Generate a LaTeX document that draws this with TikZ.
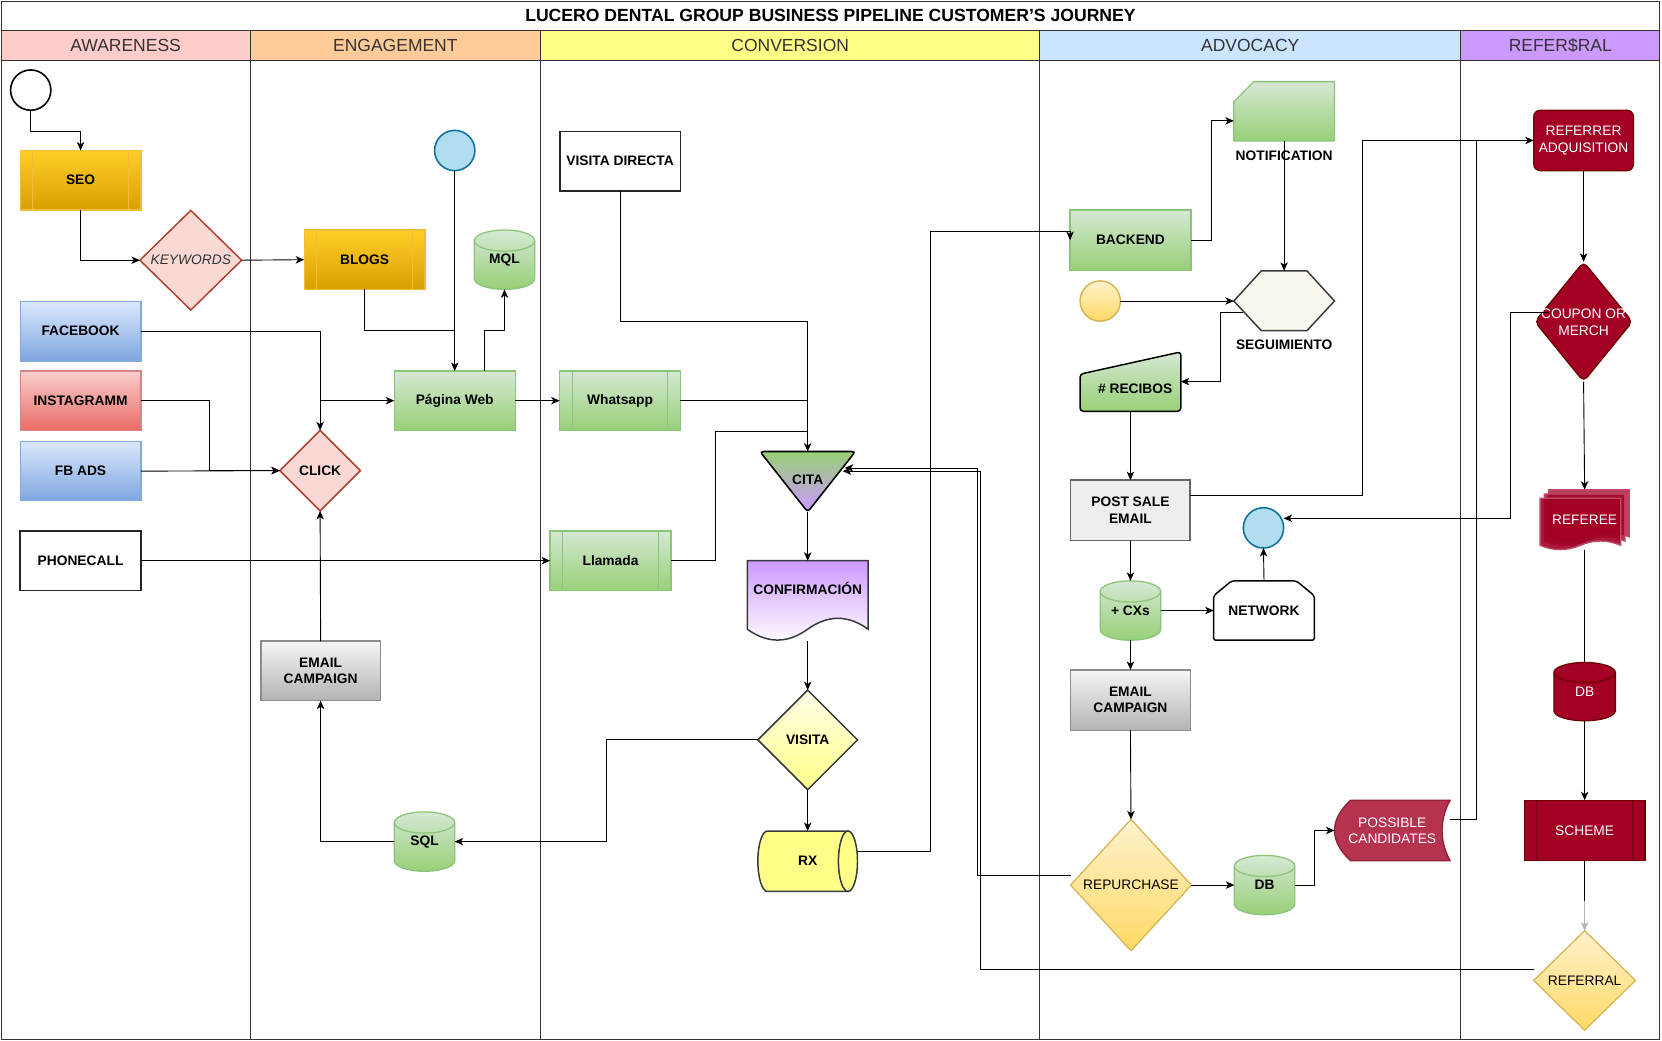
\documentclass[tikz,border=0pt]{standalone}
\usepackage{fontspec}
\setmainfont{Liberation Sans}
\usetikzlibrary{arrows.meta,shapes.geometric}

\definecolor{frame}{HTML}{333333}
\definecolor{ink}{HTML}{262626}
\definecolor{hAware}{HTML}{FFCCCC}
\definecolor{hEngage}{HTML}{FFCC99}
\definecolor{hConv}{HTML}{FFFF88}
\definecolor{hAdv}{HTML}{CCE5FF}
\definecolor{hRef}{HTML}{CC99FF}
\definecolor{ylwTop}{HTML}{FFCD28}
\definecolor{ylwBot}{HTML}{D9A000}
\definecolor{ylwLine}{HTML}{ECBE3C}
\definecolor{bluTop}{HTML}{DAE8FC}
\definecolor{bluBot}{HTML}{7EA6E0}
\definecolor{bluLine}{HTML}{84A9DD}
\definecolor{redTop}{HTML}{F8CECC}
\definecolor{redBot}{HTML}{EA6B66}
\definecolor{redLine}{HTML}{D98489}
\definecolor{grnTop}{HTML}{D5E8D4}
\definecolor{grnBot}{HTML}{97D077}
\definecolor{grnLine}{HTML}{8CC47A}
\definecolor{gryTop}{HTML}{F5F5F5}
\definecolor{gryBot}{HTML}{B3B3B3}
\definecolor{gryLine}{HTML}{8C8C8C}
\definecolor{pinkFill}{HTML}{FAD9D5}
\definecolor{pinkLine}{HTML}{AE4132}
\definecolor{cyanFill}{HTML}{B1DDF0}
\definecolor{cyanLine}{HTML}{10739E}
\definecolor{goldTop}{HTML}{FFF2CC}
\definecolor{goldBot}{HTML}{FFD966}
\definecolor{goldLine}{HTML}{D6B656}
\definecolor{lilac}{HTML}{CC99FF}
\definecolor{lemon}{HTML}{FFFF88}
\definecolor{lemonPale}{HTML}{FFFFE8}
\definecolor{slate}{HTML}{36393D}
\definecolor{cream}{HTML}{F9F7ED}
\definecolor{wine}{HTML}{A20025}
\definecolor{wineLine}{HTML}{6F0000}
\definecolor{rose}{HTML}{B5334F}
\definecolor{roseLine}{HTML}{8E2038}
\definecolor{mailFill}{HTML}{EEEEEE}
\definecolor{mailLine}{HTML}{666666}

\newcommand{\boldlbl}{\fontsize{13}{15.5}\selectfont\bfseries}
\newcommand{\plainlbl}{\fontsize{13}{15.5}\selectfont}
\newcommand{\headlbl}{\fontsize{16.5}{19}\selectfont}
\newcommand{\titlelbl}{\fontsize{16.6}{19}\selectfont\bfseries}

% vertical cylinder: #1 fill options, #2 stroke options, #3 centre x, #4 top y,
% #5 width, #6 height, #7 half height of the end ellipse
\newcommand{\vcyl}[7]{%
  \path[#1,#2] ({#3-#5/2},{#4+#7})
    -- ({#3-#5/2},{#4+#6-#7})
    .. controls ({#3-#5/2},{#4+#6-0.448*#7}) and ({#3-0.276*#5},{#4+#6}) .. ({#3},{#4+#6})
    .. controls ({#3+0.276*#5},{#4+#6}) and ({#3+#5/2},{#4+#6-0.448*#7}) .. ({#3+#5/2},{#4+#6-#7})
    -- ({#3+#5/2},{#4+#7})
    .. controls ({#3+#5/2},{#4+0.448*#7}) and ({#3+0.276*#5},{#4}) .. ({#3},{#4})
    .. controls ({#3-0.276*#5},{#4}) and ({#3-#5/2},{#4+0.448*#7}) .. ({#3-#5/2},{#4+#7}) -- cycle;
  \draw[#2] ({#3-#5/2},{#4+#7})
    .. controls ({#3-#5/2},{#4+1.552*#7}) and ({#3-0.276*#5},{#4+2*#7}) .. ({#3},{#4+2*#7})
    .. controls ({#3+0.276*#5},{#4+2*#7}) and ({#3+#5/2},{#4+1.552*#7}) .. ({#3+#5/2},{#4+#7});
}

% document with a wavy lower edge: #1 options, #2 left, #3 top, #4 width, #5 height, #6 wave depth
\newcommand{\wavedoc}[6]{%
  \path[#1] ({#2},{#3}) -- ({#2+#4},{#3}) -- ({#2+#4},{#3+#5-#6/2})
    .. controls ({#2+#4*5/6},{#3+#5-1.1*#6}) and ({#2+#4*4/6},{#3+#5-1.1*#6}) .. ({#2+#4/2},{#3+#5-#6/2})
    .. controls ({#2+#4*2/6},{#3+#5+0.1*#6}) and ({#2+#4/6},{#3+#5+0.1*#6}) .. ({#2},{#3+#5-#6/2}) -- cycle;
}

\tikzset{
  every node/.style={inner sep=0pt, outer sep=0pt, align=center, font=\boldlbl, text=black},
  box/.style={rectangle, minimum width=114pt, minimum height=56pt},
  bars/.style={path picture={
      \draw[draw=#1, line width=1pt]
        ([xshift=12pt]path picture bounding box.north west) -- ([xshift=12pt]path picture bounding box.south west)
        ([xshift=-12pt]path picture bounding box.north east) -- ([xshift=-12pt]path picture bounding box.south east);}},
  ynode/.style={box, top color=ylwTop, bottom color=ylwBot, draw=ylwLine, line width=1.2pt, bars=ylwLine},
  gnode/.style={box, top color=grnTop, bottom color=grnBot, draw=grnLine, line width=1.2pt},
  gproc/.style={gnode, bars=grnLine},
  bnode/.style={box, top color=bluTop, bottom color=bluBot, draw=bluLine, line width=1.2pt},
  rnode/.style={box, top color=redTop, bottom color=redBot, draw=redLine, line width=1.2pt},
  graynode/.style={box, top color=gryTop, bottom color=gryBot, draw=gryLine, line width=1.5pt},
  plainbox/.style={box, fill=white, draw=ink, line width=1.6pt},
  winenode/.style={fill=wine, draw=wineLine, line width=1.2pt, text=white, font=\plainlbl},
  golddia/.style={diamond, top color=goldTop, bottom color=goldBot, draw=goldLine, line width=1.2pt, font=\plainlbl},
  cyandot/.style={circle, minimum size=38pt, fill=cyanFill, draw=cyanLine, line width=1.5pt},
  grnfill/.style={top color=grnTop, bottom color=grnBot},
  grnedge/.style={draw=grnLine, line width=1.2pt},
  ghost/.style={rectangle, draw=none, fill=none},
  ln/.style={draw=black, line width=0.85pt},
  arr/.style={ln, -{Stealth[length=8pt,width=7pt,inset=2.2pt]}},
  lane/.style={draw=frame, line width=1pt},
}

\begin{document}
\begin{tikzpicture}[x=1pt, y=-1pt]
\useasboundingbox (0,0) rectangle (1568,982);

% ---------- pool, title and lane headers ----------
\fill[white] (0,0) rectangle (1568,982);
\path[fill=hAware, lane] (1,29) rectangle (236,57);
\path[fill=hEngage, lane] (236,29) rectangle (510,57);
\path[fill=hConv, lane] (510,29) rectangle (981,57);
\path[fill=hAdv, lane] (981,29) rectangle (1378,57);
\path[fill=hRef, lane] (1378,29) rectangle (1566,57);
\draw[lane] (236,57) -- (236,981) (510,57) -- (510,981) (981,57) -- (981,981) (1378,57) -- (1378,981);
\draw[lane] (1,1) rectangle (1566,981);

\node[font=\titlelbl] (title) at (783.5,14.5) {LUCERO DENTAL GROUP BUSINESS PIPELINE CUSTOMER'S JOURNEY};
\node[font=\headlbl, text=frame] (hA) at (118.5,43) {AWARENESS};
\node[font=\headlbl, text=frame] (hE) at (373,43) {ENGAGEMENT};
\node[font=\headlbl, text=frame] (hC) at (745.5,43) {CONVERSION};
\node[font=\headlbl, text=frame] (hD) at (1179.5,43) {ADVOCACY};
\node[font=\headlbl, text=frame] (hR) at (1472,43) {REFER\$RAL};

% ---------- awareness ----------
\node[circle, minimum size=38pt, fill=white, draw=black, line width=1.5pt] (start) at (29,85) {};
\node[ynode] (seo) at (76,170) {SEO};
\node[diamond, minimum width=96pt, minimum height=94pt, fill=pinkFill, draw=pinkLine, line width=1.4pt,
      font=\plainlbl\itshape, text=black!80] (kw) at (180,245.5) {KEYWORDS};
\node[bnode] (fb) at (76,312.5) {FACEBOOK};
\node[rnode] (ig) at (76,378) {INSTAGRAMM};
\node[bnode] (fbads) at (76,444.5) {FB ADS};
\node[plainbox] (phone) at (76,529) {PHONECALL};

% ---------- engagement ----------
\node[ynode] (blogs) at (344,245) {BLOGS};
\node[cyandot] (bc1) at (429,142) {};
\vcyl{grnfill}{grnedge}{476}{217}{57}{56}{10}
\node[ghost, minimum width=57pt, minimum height=56pt] (mql) at (476,245) {MQL};
\node[gnode] (web) at (429,378) {Página Web};
\node[diamond, minimum width=76pt, minimum height=76pt, fill=pinkFill, draw=pinkLine, line width=1.4pt] (click) at (302,444) {CLICK};
\node[graynode, minimum width=113pt] (emc1) at (302.5,633) {EMAIL\\CAMPAIGN};
\vcyl{grnfill}{grnedge}{400.5}{766}{57}{56}{10}
\node[ghost, minimum width=57pt, minimum height=56pt] (sql) at (400.5,794) {SQL};

% ---------- conversion ----------
\node[plainbox] (vd) at (585,152) {VISITA DIRECTA};
\node[gproc] (wa) at (585,378) {Whatsapp};
\node[gproc] (llam) at (576,529) {Llamada};
\path[top color=grnBot, bottom color=lilac, draw=black, line width=1.5pt, rounded corners=3pt]
  (717,426) -- (807,426) -- (762,483) -- cycle;
\node[ghost, minimum width=90pt, minimum height=57pt] (cita) at (762,454.5) {};
\node (citaTxt) at (762,453) {CITA};
\coordinate (citaR1) at (795,444.5);
\coordinate (citaR2) at (797,441.5);
\wavedoc{top color=lilac, bottom color=white, draw=slate, line width=1.4pt}{705}{529}{114}{76}{22.8}
\node[ghost, minimum width=114pt, minimum height=76pt] (conf) at (762,567) {};
\node (confTxt) at (762,555) {CONFIRMACIÓN};
\node[diamond, minimum width=94pt, minimum height=94pt, top color=lemonPale, bottom color=lemon, draw=slate, line width=1.4pt] (visita) at (762,698) {VISITA};
% horizontal cylinder
\path[fill=lemon, draw=slate, line width=1.4pt]
  (724,784) -- (800,784) -- (800,841) -- (724,841)
  .. controls (719,841) and (715,828.2) .. (715,812.5)
  .. controls (715,796.8) and (719,784) .. (724,784) -- cycle;
\path[fill=lemon, draw=slate, line width=1.4pt] (800,812.5) ellipse [x radius=9, y radius=28.5];
\node[ghost, minimum width=94pt, minimum height=57pt] (rx) at (762,812.5) {RX};

% ---------- advocacy ----------
\path[top color=grnTop, bottom color=grnBot, draw=grnLine, line width=1.2pt]
  (1164,96) -- (1183,77) -- (1259,77) -- (1259,133) -- (1164,133) -- cycle;
\node[ghost, minimum width=95pt, minimum height=56pt] (notif) at (1211.5,105) {};
\node[gnode, minimum width=114pt, minimum height=57pt] (backend) at (1066.5,226.5) {BACKEND};
\node[circle, minimum size=38pt, top color=goldTop, bottom color=goldBot, draw=goldLine, line width=1.4pt] (yc) at (1038,284) {};
\path[fill=cream, draw=slate, line width=1.4pt]
  (1164,284) -- (1190,255.5) -- (1233,255.5) -- (1259,284) -- (1233,312) -- (1190,312) -- cycle;
\node[ghost, minimum width=95pt, minimum height=57pt] (seg) at (1211.5,284) {};
\node (segTxt) at (1211.5,325.5) {SEGUIMIENTO};
\path[top color=grnTop, bottom color=grnBot, draw=black, line width=1.4pt, rounded corners=3pt]
  (1019,353) -- (1114,332) -- (1114,388) -- (1019,388) -- cycle;
\node[ghost, minimum width=95pt, minimum height=56pt] (rec) at (1066.5,360) {};
\node (recTxt) at (1071,367) {\# RECIBOS};
\node[box, minimum width=113pt, minimum height=57pt, fill=mailFill, draw=mailLine, line width=1.6pt] (pse) at (1066.5,481.5) {POST SALE\\EMAIL};
\vcyl{grnfill}{grnedge}{1066.5}{548}{57}{56}{10}
\node[ghost, minimum width=57pt, minimum height=56pt] (cx) at (1066.5,576) {+ CXs};
\path[fill=white, draw=black, line width=1.4pt, rounded corners=2pt]
  (1145,604) -- (1145,562) -- (1162,548) -- (1223,548) -- (1240,562) -- (1240,604) -- cycle;
\node[ghost, minimum width=95pt, minimum height=56pt] (net) at (1192.5,576) {NETWORK};
\node[cyandot] (bc2) at (1192,498) {};
\node[graynode, minimum width=113pt, minimum height=57pt] (emc2) at (1066.5,660.5) {EMAIL\\CAMPAIGN};
\node[golddia, minimum width=114pt, minimum height=124pt] (rep) at (1067,835) {REPURCHASE};
\vcyl{grnfill}{grnedge}{1193}{807}{57}{56}{10}
\node[ghost, minimum width=57pt, minimum height=56pt] (db1) at (1193,835) {DB};
\path[fill=rose, draw=roseLine, line width=1.2pt]
  (1274,755) -- (1368,755)
  .. controls (1358,774) and (1358,793) .. (1368,812)
  -- (1274,812)
  .. controls (1254,793) and (1254,774) .. (1274,755) -- cycle;
\node[ghost, minimum width=109pt, minimum height=57pt, text=white, font=\plainlbl] (pc) at (1313.5,783.5) {POSSIBLE\\CANDIDATES};

% ---------- referral ----------
\node[winenode, rectangle, rounded corners=6pt, minimum width=94pt, minimum height=57pt] (ra) at (1494,132.5) {REFERRER\\ADQUISITION};
\node[diamond, rounded corners=5pt, minimum width=92pt, minimum height=113pt, fill=wine, draw=wineLine, line width=1.2pt] (coupon) at (1494,303.5) {};
\node[text=white, font=\plainlbl] (couponTxt) at (1494,304) {COUPON OR\\MERCH};
\wavedoc{fill=wine, fill opacity=0.75, draw=wine!70, line width=1.2pt}{1461}{462}{76}{49}{9}
\wavedoc{fill=wine, fill opacity=0.8, draw=wine!70, line width=1.2pt}{1457}{466}{76}{49}{9}
\wavedoc{fill=wine, fill opacity=0.9, draw=wine!70, line width=1.2pt}{1453}{470}{76}{49}{9}
\node[ghost, minimum width=84pt, minimum height=57pt, text=white, font=\plainlbl] (referee) at (1495,490.5) {REFEREE};
\vcyl{fill=wine}{draw=wineLine, line width=1.2pt}{1495}{625}{58}{55}{9.5}
\node[ghost, minimum width=58pt, minimum height=55pt, text=white, font=\plainlbl] (db2) at (1495,652.5) {DB};
\node[box, winenode, minimum height=57pt, bars=wineLine] (scheme) at (1495,783.5) {SCHEME};
\node[golddia, minimum width=96pt, minimum height=94pt] (referral) at (1495,925) {REFERRAL};
\node (notifTxt) at (1211.5,147) {NOTIFICATION};

% ---------- connectors ----------
\draw[arr] (start.south) -- (29,124) -| (seo.north);
\draw[arr] (seo.south) |- (kw.west);
\draw[arr] (kw.east) -- (blogs.west);
\draw[arr] (bc1.south) -- (web.north);
\draw[ln] (blogs.south) |- (429,312);
\draw[arr] ([xshift=28pt]web.north) |- (476,312) -- (mql.south);
\draw[arr] (fb.east) -| (click.north);
\draw[arr] (click.north |- web.west) -- (web.west);
\draw[arr] (ig.east) -- (198,378) |- (click.west);
\draw[arr] (fbads.east) -- (click.west);
\draw[arr] (phone.east) -- (llam.west);
\draw[arr] (emc1.north) -- (click.south);
\draw[arr] (sql.west) -| (emc1.south);
\draw[arr] (visita.west) -- (572,698) |- (sql.east);
\draw[arr] (web.east) -- (wa.west);
\draw[arr] (vd.south) -- (585,303) -| (cita.north);
\draw[ln] (wa.east) -- (wa.east -| cita.north);
\draw[ln] (llam.east) -- (675,529) |- (762,407);
\draw[arr] (cita.south) -- (conf.north);
\draw[arr] (conf.south) -- (visita.north);
\draw[arr] (visita.south) -- (rx.north);
\draw[arr] ([yshift=9.5pt]rx.east) -- (878,803) -- (878,218) -- (backend.west |- 0,218) -- (backend.west);
\draw[arr] (backend.east) -- (1143,226.5) |- ([yshift=-9pt]notif.west);
\draw[arr] (notif.south) -- (seg.north);
\draw[arr] (yc.east) -- (seg.west);
\draw[arr] ([xshift=9pt,yshift=-11pt]seg.west) -- (1151,295) |- (rec.east);
\draw[arr] (rec.south) -- (pse.north);
\draw[arr] ([yshift=14pt]pse.east) -- (1285,467.5) |- (ra.west);
\draw[arr] (pse.south) -- (cx.north);
\draw[arr] (cx.east) -- (net.west);
\draw[arr] (net.north) -- (bc2.south);
\draw[arr] (cx.south) -- (emc2.north);
\draw[arr] (emc2.south) -- (rep.north);
\draw[arr] (rep.east) -- (db1.west);
\draw[arr] (db1.east) -- (1240,835) |- (pc.west);
\draw[ln] ([yshift=10pt]pc.east) -- (1393,773.5) -- (1393,132.5);
\draw[arr] (ra.south) -- (coupon.north);
\draw[arr] ([xshift=13pt,yshift=8.5pt]coupon.west) -- (1425,295) |- ([yshift=9pt]bc2.east);
\draw[arr] (coupon.south) -- (referee.north);
\draw[ln] (referee.south) -- (db2.north);
\draw[arr] (db2.south) -- (scheme.north);
\draw[ln] (scheme.south) -- (1495,850);
\draw[arr, draw=black!30] (1495,850) -- (referral.north);
\draw[arr] ([yshift=10pt]referral.west) -- (925,915) |- (citaR1);
\draw[arr] ([yshift=9pt]rep.west) -- (922,826) |- (citaR2);
\end{tikzpicture}
\end{document}
